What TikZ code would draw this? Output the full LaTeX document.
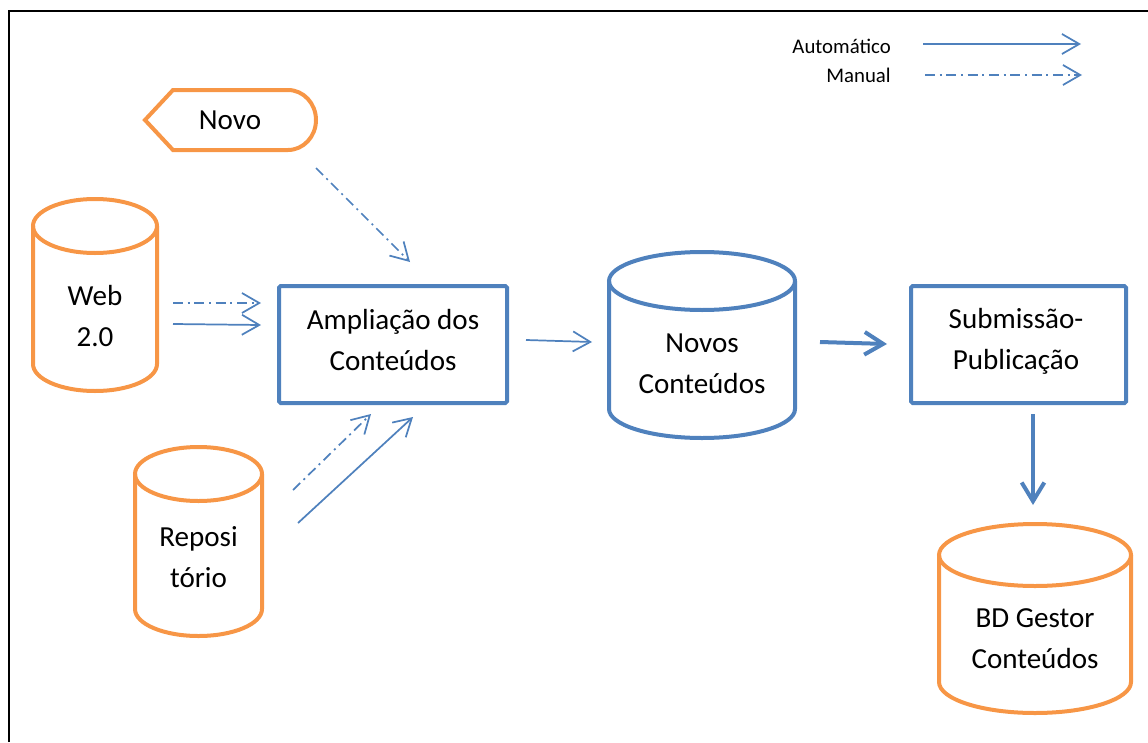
\documentclass[tikz,border=0pt]{standalone}
\usepackage{fontspec}
\setmainfont{Carlito}
\usetikzlibrary{arrows.meta}
\definecolor{accblue}{HTML}{4F81BD}
\definecolor{accorange}{HTML}{F79646}
\tikzset{
  x=0.75pt, y=-0.75pt,
  lbl/.style={font=\fontsize{21.8}{30.75}\selectfont, align=center, inner sep=0pt, text=black},
  legendtxt/.style={font=\fontsize{15.6}{18}\selectfont, inner sep=0pt, anchor=base east},
  procbox/.style={draw=accblue, line width=3pt, fill=white, inner sep=0pt, rounded corners=1.2pt},
  dbline/.style={draw=accorange, line width=3pt},
  dbblue/.style={draw=accblue, line width=3pt},
  autoflow/.style={draw=accblue, line width=1.3pt, -{Straight Barb[length=13pt,width=15pt]}},
  manualflow/.style={autoflow, dash pattern=on 7.5pt off 3.5pt on 1.5pt off 3.5pt},
  boldflow/.style={draw=accblue, line width=3pt, -{Straight Barb[length=14pt,width=17pt]}},
}
\begin{document}
\begin{tikzpicture}
\useasboundingbox (0,0) rectangle (1148,742);

% page frame
\draw[line width=2.2pt] (9,742) -- (9,11) -- (1148,11);

% legend
\node[legendtxt] (legauto) at (891,54) {Automático};
\node[legendtxt] (legman) at (891,83) {Manual};
\coordinate (la1) at (923,44);
\coordinate (la2) at (1081,44);
\coordinate (lm1) at (925,75);
\coordinate (lm2) at (1082,75);
\draw[autoflow] (la1) -- (la2);
\draw[manualflow] (lm1) -- (lm2);

% display shape: Novo
\draw[dbline, line join=miter] (173,150) -- (145,120) -- (173,90) -- (288,90)
  arc[start angle=-90, end angle=90, x radius=28, y radius=30] -- cycle;
\node[lbl] (novo) at (230,120) {Novo};

% data store: Web 2.0
\draw[dbline] (33,226) -- (33,364) arc[start angle=180, end angle=0, x radius=62, y radius=27] -- (157,226);
\draw[dbline] (95,226) ellipse[x radius=62, y radius=27];
\node[lbl] (web) at (95,316) {Web\\2.0};

% data store: Repositório
\draw[dbline] (135,474) -- (135,609) arc[start angle=180, end angle=0, x radius=63.5, y radius=27] -- (262,474);
\draw[dbline] (198.5,474) ellipse[x radius=63.5, y radius=27];
\node[lbl] (repo) at (198.5,557) {Reposi\\tório};

% process: Ampliação dos Conteúdos
\node[procbox, minimum width=171pt, minimum height=87.75pt] (ampl) at (393,344.5) {};
\node[lbl] (ampltxt) at (393,340) {Ampliação dos\\Conteúdos};

% data store: Novos Conteúdos
\draw[dbblue] (609,281) -- (609,409) arc[start angle=180, end angle=0, x radius=93, y radius=29] -- (795,281);
\draw[dbblue] (702,281) ellipse[x radius=93, y radius=29];
\node[lbl] (novos) at (702,364) {Novos\\Conteúdos};

% process: Submissão-Publicação
\node[procbox, minimum width=161.25pt, minimum height=87.75pt] (subm) at (1018.5,344.5) {};
\node[lbl] (submtxt) at (1016,341) {Submissão-\\Publicação};

% data store: BD Gestor Conteúdos
\draw[dbline] (939,555) -- (939,682) arc[start angle=180, end angle=0, x radius=96, y radius=31] -- (1131,555);
\draw[dbline] (1035,555) ellipse[x radius=96, y radius=31];
\node[lbl] (bd) at (1035,639) {BD Gestor\\Conteúdos};

% connector end points
\coordinate (novoout) at (316,168);
\coordinate (amplnovo) at (410,262);
\coordinate (webout1) at (173,303);
\coordinate (amplweb1) at (261,303);
\coordinate (webout2) at (173,324);
\coordinate (amplweb2) at (261,325);
\coordinate (repoout1) at (293,490);
\coordinate (amplrepo1) at (371,414);
\coordinate (repoout2) at (298,523);
\coordinate (amplrepo2) at (413,417);
\coordinate (amplout) at (526,340);
\coordinate (novosin) at (592,342);
\coordinate (novosout) at (820,342);
\coordinate (submin) at (887,344);
\coordinate (submout) at (1033,414);
\coordinate (bdin) at (1033,505);

% flows
\draw[manualflow] (novoout) -- (amplnovo);
\draw[manualflow] (webout1) -- (amplweb1);
\draw[autoflow] (webout2) -- (amplweb2);
\draw[manualflow] (repoout1) -- (amplrepo1);
\draw[autoflow] (repoout2) -- (amplrepo2);
\draw[autoflow] (amplout) -- (novosin);
\draw[boldflow] (novosout) -- (submin);
\draw[boldflow] (submout) -- (bdin);
\end{tikzpicture}
\end{document}
